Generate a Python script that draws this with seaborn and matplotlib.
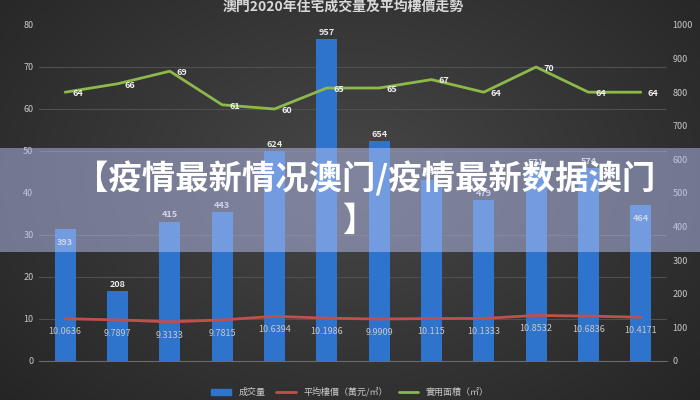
import numpy as np
import matplotlib
matplotlib.use('Agg')
import matplotlib.pyplot as plt
import seaborn as sns
from matplotlib.patches import Rectangle, Patch
from matplotlib.lines import Line2D
from matplotlib.ticker import MultipleLocator

# 数据
months = ["2020年1月", "2020年2月", "2020年3月", "2020年4月", "2020年5月", "2020年6月",
          "2020年7月", "2020年8月", "2020年9月", "2020年10月", "2020年11月", "2020年12月"]
volume = [393, 208, 415, 443, 624, 957, 654, 540, 479, 571, 574, 464]
avg_price = [10.0636, 9.7897, 9.3133, 9.7815, 10.6394, 10.1986,
             9.9909, 10.115, 10.1333, 10.8532, 10.6836, 10.4171]
area = [64, 66, 69, 61, 60, 65, 65, 67, 64, 70, 64, 64]
price_labels = ["10.0636", "9.7897", "9.3133", "9.7815", "10.6394", "10.1986",
                "9.9909", "10.115", "10.1333", "10.8532", "10.6836", "10.4171"]
left_ticks = list(range(0, 81, 10))
right_ticks = list(range(0, 1001, 100))

TITLE = "澳門2020年住宅成交量及平均樓價走勢"
BANNER = "【疫情最新情况澳门/疫情最新数据澳门"
LEGEND = ["成交量", "平均樓價（萬元/㎡）", "實用面積（㎡）"]

BLUE = "#2f74cc"
RED = "#c0504d"
GREEN = "#8db84a"
TXT = "#c8c8c8"

sns.set_style("dark")
plt.rcParams['font.family'] = ['Noto Sans CJK TC', 'DejaVu Sans']

fig = plt.figure(figsize=(7, 4), dpi=100)

# 背景渐变
bg = fig.add_axes([0, 0, 1, 1], zorder=-10)
gx, gy = np.meshgrid(np.linspace(0, 1, 350), np.linspace(0, 1, 200))
r = np.sqrt(((gx - 0.5) / 0.65) ** 2 + ((gy - 0.45) / 0.8) ** 2)
shade = np.clip(0.28 - 0.13 * r, 0.13, 0.29)
bg.imshow(np.dstack([shade] * 3), extent=[0, 1, 0, 1], aspect="auto")
bg.axis("off")

ax = fig.add_axes([0.0557, 0.0975, 0.897, 0.84])
ax2 = ax.twinx()

# 柱状图(右轴)
sns.barplot(x=months, y=volume, ax=ax2, color=BLUE, width=0.4, saturation=1,
            edgecolor="none", linewidth=0)
ax2.set_ylim(0, 1000)
ax2.set_yticks(right_ticks)
ax2.yaxis.set_minor_locator(MultipleLocator(1000 / 8))
ax2.grid(which="minor", axis="y", color="#505050", lw=0.8)
ax2.grid(which="major", visible=False)
ax2.set_axisbelow(True)
inside = {0, 11}
for i, p in enumerate(ax2.patches):
    off = -10 if i in inside else 5
    ax2.annotate(str(volume[i]), (p.get_x() + p.get_width() / 2, p.get_height()),
                 xytext=(0, off), textcoords="offset points", ha="center", va="center",
                 fontsize=6.5, color="#e8e8e8", fontweight="bold")

# 折线(左轴)
ax.set_zorder(ax2.get_zorder() + 1)
ax.patch.set_visible(False)
ax2.patch.set_visible(False)
x = np.arange(len(months))
sns.lineplot(x=x, y=avg_price, ax=ax, color=RED, lw=2)
sns.lineplot(x=x, y=area, ax=ax, color=GREEN, lw=2)
for i in x:
    ax.annotate(price_labels[i], (i, avg_price[i]), xytext=(0, -9.5), textcoords="offset points",
                ha="center", va="center", fontsize=6.5, color=TXT)
    ax.annotate(str(area[i]), (i, area[i]), xytext=(9, -1), textcoords="offset points",
                ha="center", va="center", fontsize=6.5, color="#f0f0f0", fontweight="bold")
ax.set_ylim(0, 80)
ax.set_yticks(left_ticks)
ax.set_xlim(-0.5, len(months) - 0.5)

for a in (ax, ax2):
    a.set_xlabel("")
    a.set_ylabel("")
    for s in a.spines.values():
        s.set_visible(False)
    a.tick_params(colors=TXT, labelsize=6.5, length=0, pad=4)
ax2.spines["bottom"].set_visible(True)
ax2.spines["bottom"].set_color("#6a6a6a")
ax2.tick_params(axis="x", labelsize=6.5, pad=5)
ax.tick_params(axis="x", labelbottom=False)
ax.grid(False)

fig.text(0.49, 0.982, TITLE, ha="center", va="center", fontsize=10, fontweight="bold", color="#d8d8d8")

handles = [Patch(color=BLUE), Line2D([], [], color=RED, lw=2), Line2D([], [], color=GREEN, lw=2)]
leg = fig.legend(handles, LEGEND, loc="center", bbox_to_anchor=(0.5, 0.02), ncol=3, frameon=False,
                 fontsize=6.5, handlelength=2.2, columnspacing=1.2, borderpad=0.1)
for t in leg.get_texts():
    t.set_color(TXT)

# 覆盖横幅
fig.add_artist(Rectangle((0, 1 - 252 / 400), 1, 104 / 400, transform=fig.transFigure,
                         facecolor=(0.72, 0.76, 0.95), alpha=0.5, edgecolor="none", zorder=5))
fig.text(0.522, 1 - 179 / 400, BANNER, ha="center", va="center", fontsize=24, fontweight="bold",
         color="white", family=["Noto Sans CJK SC", "DejaVu Sans"], zorder=6)
fig.text(0.512, 1 - 221 / 400, "】", ha="center", va="center", fontsize=24, fontweight="bold",
         color="white", family=["Noto Sans CJK SC", "DejaVu Sans"], zorder=6)

fig.savefig("out.png", dpi=100)
